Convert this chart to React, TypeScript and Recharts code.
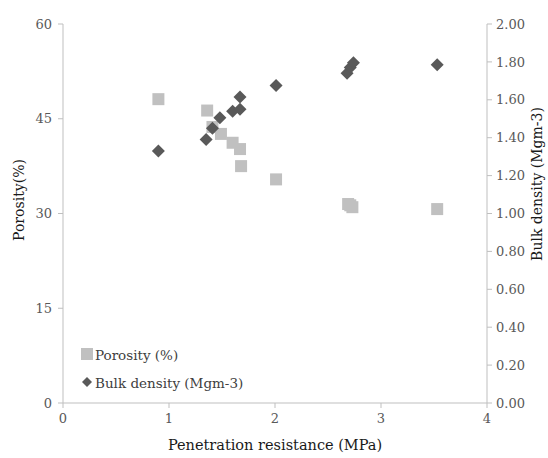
import React from "react";
import { Scatter, ScatterChart, XAxis, YAxis } from "recharts";

// values
const porosityX = [0.9, 1.36, 1.41, 1.49, 1.6, 1.67, 1.68, 2.01, 2.69, 2.71, 2.73, 3.53];
const porosityY = [48.1, 46.3, 43.7, 42.6, 41.2, 40.2, 37.5, 35.4, 31.5, 31.3, 31.0, 30.7];
const bulkX = [0.9, 1.35, 1.41, 1.48, 1.6, 1.67, 1.67, 2.01, 2.68, 2.71, 2.74, 3.53];
const bulkY = [1.33, 1.39, 1.45, 1.505, 1.54, 1.55, 1.615, 1.675, 1.74, 1.77, 1.795, 1.785];

const xTicks = [0, 1, 2, 3, 4];
const porosityTicks = [0, 15, 30, 45, 60];
const bulkTicks = [0, 0.2, 0.4, 0.6, 0.8, 1.0, 1.2, 1.4, 1.6, 1.8, 2.0];

const porosityData = porosityX.map((x, i) => ({ x, y: porosityY[i] }));
const bulkData = bulkX.map((x, i) => ({ x, y: bulkY[i] }));

const FONT = "'DejaVu Serif', 'Liberation Serif', serif";
const AXIS = "#bfbfbf";
const LIGHT = "#c0c0c0";
const DARK = "#595959";

const SquareDot = (props: any) => {
  const { cx, cy } = props;
  if (cx == null || cy == null) return null;
  return <rect x={cx - 6} y={cy - 6} width={12} height={12} fill={LIGHT} />;
};

const DiamondDot = (props: any) => {
  const { cx, cy } = props;
  if (cx == null || cy == null) return null;
  const r = 6.5;
  return <path d={`M${cx},${cy - r}L${cx + r},${cy}L${cx},${cy + r}L${cx - r},${cy}Z`} fill={DARK} />;
};

// rotated axis title, baseline at x, centred on y
const sideTitle = (text: string, x: number, y: number) => () => (
  <text
    x={x}
    y={y}
    transform={`rotate(-90, ${x}, ${y})`}
    textAnchor="middle"
    fill="#1a1a1a"
    fontSize={14}
    fontFamily={FONT}
  >
    {text}
  </text>
);

const tickStyle = { fill: DARK, fontSize: 13, fontFamily: FONT };

export default function App() {
  return (
    <div style={{ position: "absolute", left: 0, top: 0, background: "#fff" }}>
      <ScatterChart width={548} height={458} margin={{ top: 24, right: 0, bottom: 0, left: 0 }}>
        <XAxis
          type="number"
          dataKey="x"
          domain={[0, 4]}
          ticks={xTicks}
          height={55}
          stroke={AXIS}
          tickSize={5}
          tickMargin={6}
          tick={tickStyle}
          label={{ value: "Penetration resistance (MPa)", position: "insideBottom", offset: 8, fill: "#1a1a1a", fontSize: 14.5, fontFamily: FONT }}
        />
        <YAxis
          yAxisId="left"
          type="number"
          dataKey="y"
          domain={[0, 60]}
          ticks={porosityTicks}
          width={63}
          stroke={AXIS}
          tickSize={5}
          tickMargin={6}
          tick={tickStyle}
          label={{ content: sideTitle("Porosity(%)", 24, 200) }}
        />
        <YAxis
          yAxisId="right"
          orientation="right"
          type="number"
          dataKey="y"
          domain={[0, 2]}
          ticks={bulkTicks}
          width={61}
          stroke={AXIS}
          tickSize={5}
          tickMargin={4}
          tick={tickStyle}
          tickFormatter={(v: number) => v.toFixed(2)}
          label={{ content: sideTitle("Bulk density (Mgm-3)", 542, 184) }}
        />
        <Scatter name="Porosity (%)" data={porosityData} yAxisId="left" shape={SquareDot} isAnimationActive={false} />
        <Scatter name="Bulk density (Mgm-3)" data={bulkData} yAxisId="right" shape={DiamondDot} isAnimationActive={false} />
      </ScatterChart>
      <div
        style={{
          position: "absolute",
          left: 80,
          top: 341,
          fontFamily: FONT,
          fontSize: 13.5,
          color: "#404040",
          lineHeight: "28px",
        }}
      >
        <div style={{ display: "flex", alignItems: "center" }}>
          <svg width={14} height={14} style={{ marginRight: 1, marginTop: -2 }}>
            <rect x={1} y={1} width={12} height={12} fill={LIGHT} />
          </svg>
          Porosity (%)
        </div>
        <div style={{ display: "flex", alignItems: "center" }}>
          <svg width={14} height={14} style={{ marginRight: 1, marginTop: -2 }}>
            <path d="M7,2L12,7L7,12L2,7Z" fill={DARK} />
          </svg>
          Bulk density (Mgm-3)
        </div>
      </div>
    </div>
  );
}
